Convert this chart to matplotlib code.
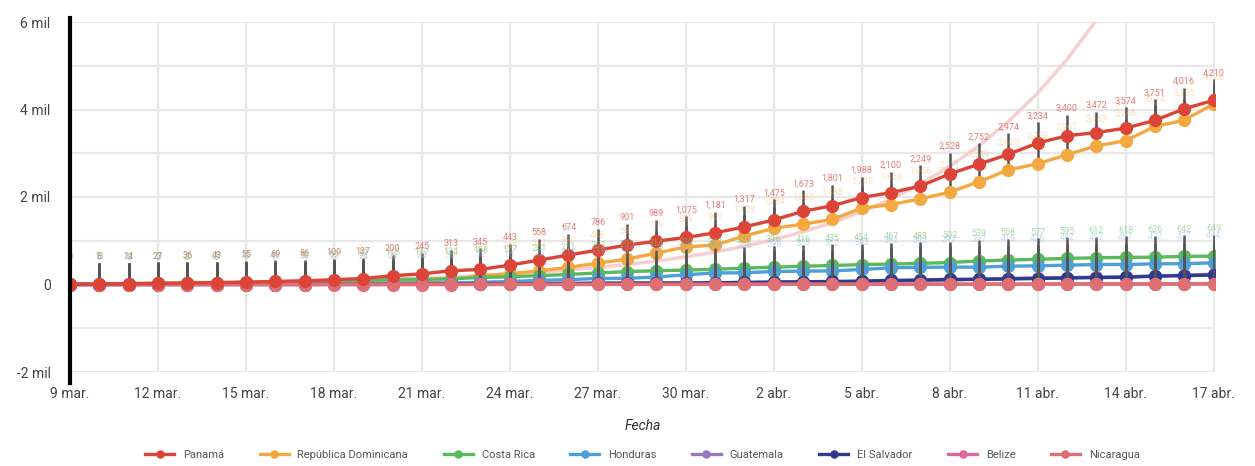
import numpy as np
import pandas as pd
import matplotlib
matplotlib.use("Agg")
import matplotlib.pyplot as plt

plt.rcParams['font.family'] = ['Roboto', 'DejaVu Sans']

# dates: 9 mar. -> 17 abr. (2020)
fechas = pd.date_range("2020-03-09", "2020-04-17")
tick_labels = ["9 mar.", "12 mar.", "15 mar.", "18 mar.", "21 mar.", "24 mar.", "27 mar.",
               "30 mar.", "2 abr.", "5 abr.", "8 abr.", "11 abr.", "14 abr.", "17 abr."]

panama = [1, 8, 14, 27, 36, 43, 55, 69, 86, 109, 137, 200, 245, 313, 345, 443, 558, 674, 786, 901,
          989, 1075, 1181, 1317, 1475, 1673, 1801, 1988, 2100, 2249, 2528, 2752, 2974, 3234, 3400,
          3472, 3574, 3751, 4016, 4210]
rep_dom = [5, 5, 5, 5, 5, 5, 5, 11, 11, 21, 21, 34, 72, 112, 202, 245, 312, 392, 488, 581,
           719, 859, 901, 1109, 1284, 1380, 1488, 1745, 1828, 1956, 2111, 2349, 2620, 2759, 2967,
           3167, 3286, 3614, 3755, 4126]
costa_rica = [9, 13, 22, 23, 26, 27, 35, 41, 50, 69, 87, 113, 117, 134, 158, 177, 201, 231, 263, 295,
              314, 330, 347, 375, 396, 416, 435, 454, 467, 483, 502, 539, 558, 577, 595, 612, 618,
              626, 642, 649]
honduras = [0, 0, 2, 2, 2, 3, 6, 8, 9, 12, 24, 26, 30, 36, 52, 68, 95, 110, 139, 141,
            172, 222, 264, 268, 298, 305, 312, 343, 382, 392, 397, 397, 419, 426, 442, 457, 457,
            472, 477, 494]
guatemala = [0, 0, 0, 0, 1, 1, 2, 6, 6, 9, 12, 17, 19, 20, 21, 24, 25, 28, 34, 34,
             36, 38, 39, 47, 50, 61, 61, 70, 77, 87, 95, 126, 137, 155, 156, 167, 180, 196, 214, 235]
el_salvador = [0, 0, 0, 0, 0, 0, 0, 0, 0, 1, 1, 3, 5, 9, 13, 13, 13, 19, 24, 30,
               32, 32, 41, 46, 56, 62, 69, 78, 93, 103, 117, 118, 125, 137, 149, 159, 164, 190, 201, 218]
belize = [0, 0, 0, 0, 0, 0, 0, 0, 0, 0, 0, 0, 0, 0, 1, 1, 2, 2, 2, 3,
          3, 3, 3, 3, 5, 7, 7, 7, 7, 8, 8, 10, 10, 11, 13, 14, 14, 15, 18, 18]
nicaragua = [0, 0, 0, 0, 0, 0, 0, 0, 0, 1, 1, 1, 2, 2, 2, 2, 2, 2, 2, 2,
             4, 4, 4, 5, 5, 5, 5, 5, 6, 6, 6, 8, 9, 9, 9, 9, 9, 9, 9, 10]

# pink trend curve (goes off the top after ~13 abr.)
tendencia = [21, 25, 30, 35, 41, 48, 56, 66, 78, 91, 107, 126, 148, 174, 205, 240, 282, 332, 390, 458,
             538, 632, 743, 873, 1025, 1205, 1415, 1665, 1955, 2295, 2700, 3170, 3725, 4375, 5140,
             6040, 7100]

error_sup = 480

series = [
    ("Panamá", panama, "#db4437"),
    ("República Dominicana", rep_dom, "#f4a840"),
    ("Costa Rica", costa_rica, "#5cb85c"),
    ("Honduras", honduras, "#4d9fd6"),
    ("Guatemala", guatemala, "#9b78bd"),
    ("El Salvador", el_salvador, "#2f3a8f"),
    ("Belize", belize, "#e0679a"),
    ("Nicaragua", nicaragua, "#de6f73"),
]

fig = plt.figure(figsize=(12.55, 4.66), dpi=100)
ax = fig.add_axes([70 / 1255, 1 - 372 / 466, 1145 / 1255, 350 / 466])

x = np.arange(len(fechas))

ax.plot(np.arange(len(tendencia)), tendencia, color="#f8cfd0", lw=2.5, zorder=2)

for i, (nombre, vals, col) in enumerate(series):
    z = 12 if nombre == "Panamá" else 3 + i
    ax.errorbar(x, vals, yerr=[np.zeros(len(x)), np.full(len(x), error_sup)], fmt="none",
                ecolor="#555555", elinewidth=1.8, capsize=0, zorder=z - 0.5)
    ax.plot(x, vals, color=col, lw=2.4, marker="o", ms=8.5, label=nombre, zorder=z)

# data labels above the error bars
etiquetas = [(panama, "#e0716a", 0.9), (rep_dom, "#f4b870", 0.45),
             (costa_rica, "#77c477", 0.6), (honduras, "#7fb6e0", 0.45)]
for vals, col, a in etiquetas:
    for xi, v in zip(x, vals):
        ax.text(xi, v + error_sup + 40, f"{v:,}", color=col, alpha=a, fontsize=6.5,
                ha="center", va="bottom", zorder=15)

ax.set_xlim(0, 39.05)
ax.set_ylim(-2000, 6000)
ax.set_yticks([-2000, 0, 2000, 4000, 6000])
ax.set_yticklabels(["-2 mil", "0", "2 mil", "4 mil", "6 mil"])
ax.set_yticks(np.arange(-2000, 6001, 1000), minor=True)
ax.set_xticks(np.arange(0, 40, 3))
ax.set_xticklabels(tick_labels)
ax.grid(True, which="both", color="#e8e8e8", lw=1.6, zorder=0)
ax.set_axisbelow(True)
ax.tick_params(axis="both", which="both", length=0, labelsize=10, colors="#444444")
ax.tick_params(axis="y", pad=14)
ax.tick_params(axis="x", pad=11)
for s in ax.spines.values():
    s.set_visible(False)
ax.plot([0, 0], [-2250, 6090], color="black", lw=3, clip_on=False, zorder=20)

ax.set_xlabel("Fecha", fontsize=10, style="italic", color="#333333", labelpad=13)

ax.legend(loc="upper center", bbox_to_anchor=(0.5, -0.195), ncol=8, frameon=False,
          fontsize=8, handlelength=2.6, markerscale=0.6, columnspacing=3.2,
          labelcolor="#555555")

fig.savefig("out.png", dpi=100)
